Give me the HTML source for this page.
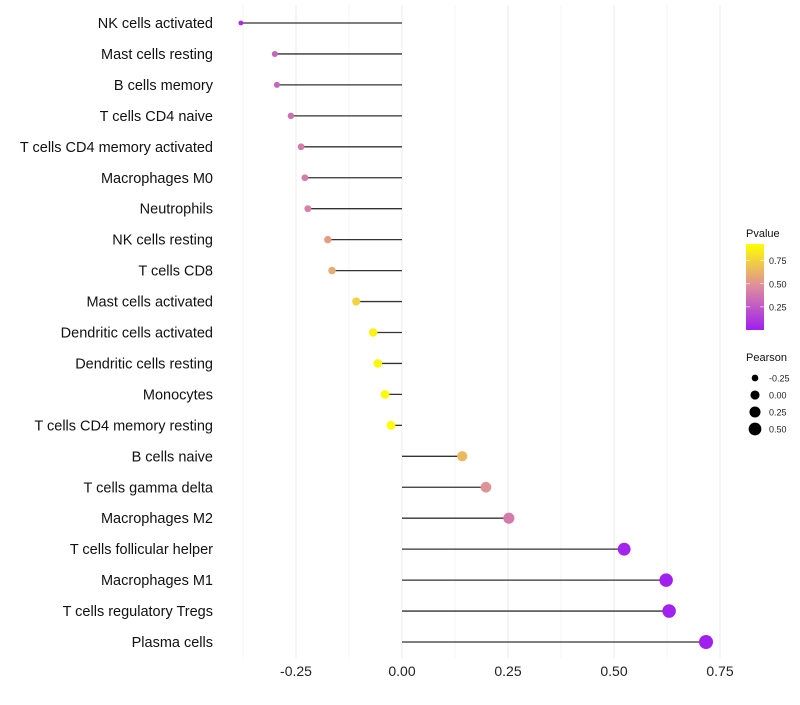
<!DOCTYPE html>
<html><head><meta charset="utf-8"><style>
body{margin:0;background:#fff;font-family:"Liberation Sans",sans-serif}
</style></head><body>
<svg id="c" width="800" height="700" xmlns="http://www.w3.org/2000/svg"></svg>
<script>
const categories=["NK cells activated","Mast cells resting","B cells memory","T cells CD4 naive","T cells CD4 memory activated","Macrophages M0","Neutrophils","NK cells resting","T cells CD8","Mast cells activated","Dendritic cells activated","Dendritic cells resting","Monocytes","T cells CD4 memory resting","B cells naive","T cells gamma delta","Macrophages M2","T cells follicular helper","Macrophages M1","T cells regulatory  Tregs","Plasma cells"];
const pearson=[-0.38,-0.30,-0.295,-0.262,-0.238,-0.229,-0.222,-0.175,-0.165,-0.108,-0.068,-0.057,-0.04,-0.026,0.142,0.198,0.252,0.524,0.623,0.630,0.717];
const pvalue=[0.05,0.3,0.3,0.35,0.4,0.4,0.42,0.55,0.6,0.75,0.88,0.9,0.92,0.93,0.65,0.5,0.4,0.02,0.01,0.01,0.0];
const xTicks=[-0.25,0,0.25,0.5,0.75];
const xTickLabels=["-0.25","0.00","0.25","0.50","0.75"];
const legendP=[0.25,0.5,0.75];
const legendPearson=[-0.25,0,0.25,0.5];

const svg=document.getElementById('c');
const NS="http://www.w3.org/2000/svg";
function mk(t,a,p){const e=document.createElementNS(NS,t);for(const k in a)e.setAttribute(k,a[k]);(p||svg).appendChild(e);return e;}
const xs=v=>402+v*424;
const ys=i=>23+i*30.95;
const rs=v=>Math.sqrt(Math.max(2,20.8+39.3*v));
function lerp(a,b,t){return a.map((x,i)=>Math.round(x+(b[i]-x)*t));}
function col(p){const t=Math.max(0,Math.min(1,p/0.93));const s=[[160,32,240],[221,138,160],[255,255,0]];
 const c=t<0.5?lerp(s[0],s[1],t*2):lerp(s[1],s[2],(t-0.5)*2);return `rgb(${c})`;}
for(let k=0;k<10;k++){const v=-0.375+k*0.125;const major=k%2===1;
 const g=mk('line',{x1:xs(v),x2:xs(v),y1:5,y2:658,stroke:major?'#ebebeb':'#f2f2f2','stroke-width':major?1:0.7});
 }
xTicks.forEach((v,i)=>{const t=mk('text',{x:xs(v),y:676,'text-anchor':'middle','font-size':14,fill:'#222'});t.textContent=xTickLabels[i];
});
categories.forEach((c,i)=>{const y=ys(i);
 const t=mk('text',{x:213,y:y+5,'text-anchor':'end','font-size':14.5,fill:'#111'});t.textContent=c;
 
 const l=mk('line',{x1:xs(0),x2:xs(pearson[i]),y1:y,y2:y,stroke:'#333','stroke-width':1.3});
 
 const d=mk('circle',{cx:xs(pearson[i]),cy:y,r:rs(pearson[i]),fill:col(pvalue[i])});
 
});
const defs=mk('defs',{});const lg=mk('linearGradient',{id:'g',x1:0,y1:1,x2:0,y2:0},defs);
for(let k=0;k<=10;k++)mk('stop',{offset:k/10,'stop-color':col(0.93*k/10)},lg);
const lt=mk('text',{x:746,y:237,'font-size':11,fill:'#111'});lt.textContent='Pvalue';

const cb=mk('rect',{x:746,y:244,width:18,height:86,fill:'url(#g)'});

legendP.forEach(p=>{const y=330-p/0.93*86;
 mk('line',{x1:746,x2:750,y1:y,y2:y,stroke:'#fff','stroke-width':0.6});mk('line',{x1:760,x2:764,y1:y,y2:y,stroke:'#fff','stroke-width':0.6});
 const t=mk('text',{x:769,y:y+3.5,'font-size':9,fill:'#222'});t.textContent=p.toFixed(2);
 });
const pt=mk('text',{x:746,y:361,'font-size':11,fill:'#111'});pt.textContent='Pearson';

legendPearson.forEach((v,i)=>{const y=378+i*17;
 const c=mk('circle',{cx:755,cy:y,r:rs(v),fill:'#000'});
 
 const t=mk('text',{x:769,y:y+3.5,'font-size':9,fill:'#222'});t.textContent=v.toFixed(2);
 });
</script>
</body></html>
